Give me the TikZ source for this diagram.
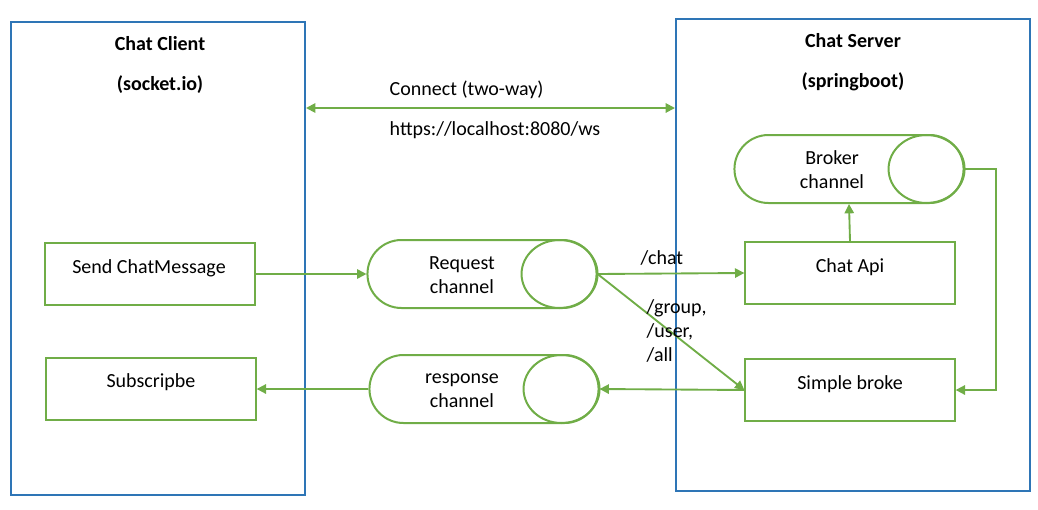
\documentclass[tikz,border=0pt]{standalone}
\usepackage{fontspec}
\setmainfont{Carlito}
\usetikzlibrary{arrows.meta,shapes.misc}
\definecolor{lnkgreen}{HTML}{70AD47}
\definecolor{sideblue}{HTML}{2E75B6}
\newcommand{\chanface}[1]{\draw[lnkgreen,line width=1.5pt] ([xshift=-28.5pt]#1.east) ellipse (38 and 34);}
\begin{document}
\begin{tikzpicture}[x=0.75pt,y=-0.75pt,font=\fontsize{15}{18}\selectfont,
    side/.style={draw=sideblue,line width=1.5pt},
    title/.style={font=\fontsize{15}{18}\selectfont\bfseries},
    boxnode/.style={draw=lnkgreen,line width=1.5pt,minimum width=157pt,minimum height=46pt},
    chan/.style={rounded rectangle,draw=lnkgreen,line width=1.5pt,minimum width=178.5pt,minimum height=51pt},
    link/.style={draw=lnkgreen,line width=1.4pt,-{Triangle[length=7pt,width=7pt]}}]
  \useasboundingbox (0,0) rectangle (1038,510);
  % the two sides
  \draw[side] (11,22) rectangle (305,495);
  \draw[side] (676,19) rectangle (1030,491);
  \node[title] (cli) at (160,44) {Chat Client};
  \node[title] (cliio) at (160,85) {(socket.io)};
  \node[title] (srv) at (853,41) {Chat Server};
  \node[title] (srvsb) at (853,82) {(springboot)};
  % connection
  \coordinate (cl) at (306,108);
  \coordinate (sr) at (675,108);
  \draw[link,{Triangle[length=7pt,width=7pt]}-{Triangle[length=7pt,width=7pt]}] (cl) -- (sr);
  \node[anchor=west] (conn) at (385,90) {Connect (two-way)};
  \node[anchor=west] (url) at (385,130) {https://localhost:8080/ws};
  % client
  \node[boxnode] (send) at (150,274) {};
  \node (sendt) at (149,268) {Send ChatMessage};
  \node[boxnode] (sub) at (151,389) {};
  \node (subt) at (151,382) {Subscripbe};
  % channels
  \node[chan] (req) at (482,274) {};
  \chanface{req}
  \node[align=center] (reqt) at (462,275) {Request\\channel};
  \node[chan] (resp) at (484,389) {};
  \chanface{resp}
  \node[align=center] (respt) at (462,391) {response\\channel};
  \node[chan] (brk) at (849,169) {};
  \chanface{brk}
  \node[align=center] (brkt) at (832,170) {Broker\\channel};
  % server
  \node[boxnode] (api) at (850,273) {};
  \node (apit) at (850,267) {Chat Api};
  \node[boxnode] (simple) at (850,390) {};
  \node (simplet) at (850,384) {Simple broke};
  % links
  \draw[link] (send.east) -- (req.west);
  \draw[link] (req.east) -- (api.west);
  \draw[link] (req.east) -- (simple.west);
  \draw[link] (simple.west) -- (resp.east);
  \draw[link] (resp.west) -- (sub.east);
  \draw[link] (api.north) -- (brk.south);
  \draw[link] (brk.east) -- (996,169) |- (simple.east);
  \node[anchor=west] (chatlbl) at (636,258) {/chat};
  \node[anchor=west,align=left] (grp) at (642,331) {/group,\\/user,\\/all};
\end{tikzpicture}
\end{document}
